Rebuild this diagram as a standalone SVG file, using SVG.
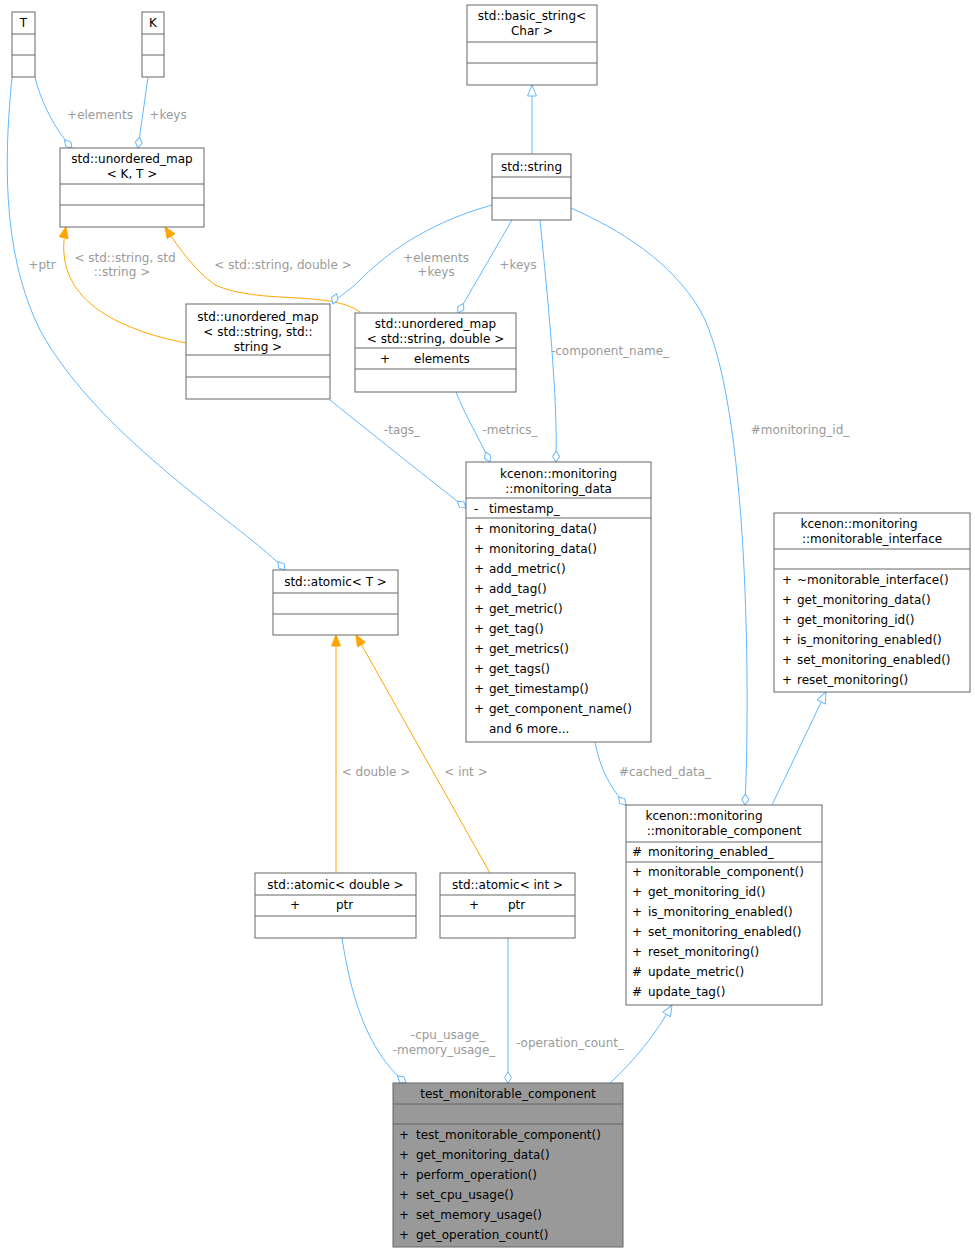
<svg xmlns="http://www.w3.org/2000/svg" width="975" height="1253" viewBox="0 0 975 1253">
<style>
text{font-family:"DejaVu Sans",sans-serif;font-size:12px;fill:#000}
.b{fill:#fff;stroke:#666;stroke-width:1}
.g{fill:#999;stroke:#666;stroke-width:1}
.l{stroke:#666;stroke-width:1}
.c{text-anchor:middle}
.e{fill:none;stroke:#63b8ff;stroke-width:1}
.o{fill:none;stroke:#ffa500;stroke-width:1}
.lb{fill:#9a9a9a;text-anchor:middle}
.agg{marker-end:url(#dia)}
.inh{marker-end:url(#tri)}
.tpl{marker-end:url(#arr)}
</style>
<defs>
<marker id="dia" viewBox="0 0 12 8" refX="11.5" refY="4" markerWidth="12" markerHeight="8" markerUnits="userSpaceOnUse" orient="auto"><path d="M0.5,4 L6,0.5 L11.5,4 L6,7.5 Z" fill="#fff" stroke="#63b8ff"/></marker>
<marker id="tri" viewBox="0 0 12 10" refX="11.5" refY="5" markerWidth="12" markerHeight="10" markerUnits="userSpaceOnUse" orient="auto"><path d="M0.5,0.5 L11.5,5 L0.5,9.5 Z" fill="#fff" stroke="#63b8ff"/></marker>
<marker id="arr" viewBox="0 0 12 10" refX="11.5" refY="5" markerWidth="12" markerHeight="10" markerUnits="userSpaceOnUse" orient="auto"><path d="M0.5,0.5 L11.5,5 L0.5,9.5 Z" fill="#ffa500" stroke="#ffa500"/></marker>
</defs>
<g id="edges">
<path class="e agg" d="M35,77 C40,100 55,130 72,148"/>
<text class="lb" x="100" y="119">+elements</text>
<path class="e agg" d="M148,77 L138,148"/>
<text class="lb" x="168" y="119">+keys</text>
<path class="e inh" d="M532,154 L532,85"/>
<path class="o tpl" d="M186,343 C120,330 50,300 66,227"/>
<text class="lb" x="125" y="262">&lt; std::string, std</text>
<text class="lb" x="122" y="276">::string &gt;</text>
<path class="o tpl" d="M360,312 C330,290 260,305 215,285 C195,270 180,250 165,227"/>
<text class="lb" x="283" y="269">&lt; std::string, double &gt;</text>
<path class="e agg" d="M492,205 C420,225 380,260 360,280 C345,295 335,298 333,304"/>
<text class="lb" x="436" y="262">+elements</text>
<text class="lb" x="436" y="276">+keys</text>
<path class="e agg" d="M512,220 L458,313"/>
<text class="lb" x="518" y="269">+keys</text>
<path class="e agg" d="M540,220 C548,300 558,400 556,462"/>
<text class="lb" x="610" y="355">-component_name_</text>
<path class="e agg" d="M571,208 C620,230 670,260 700,310 C750,400 750,700 745,805"/>
<text class="lb" x="800" y="434">#monitoring_id_</text>
<path class="e agg" d="M330,400 C380,440 430,480 466,508"/>
<text class="lb" x="402" y="434">-tags_</text>
<path class="e agg" d="M456,392 C465,415 480,440 490,462"/>
<text class="lb" x="510" y="434">-metrics_</text>
<path class="e agg" d="M12,77 C5,150 0,250 40,330 C100,440 250,530 285,570"/>
<text class="lb" x="42" y="269">+ptr</text>
<path class="o tpl" d="M336,873 L336,635"/>
<text class="lb" x="376" y="776">&lt; double &gt;</text>
<path class="o tpl" d="M490,873 L356,635"/>
<text class="lb" x="466" y="776">&lt; int &gt;</text>
<path class="e agg" d="M595,742 C600,770 612,790 626,805"/>
<text class="lb" x="665" y="776">#cached_data_</text>
<path class="e inh" d="M772,805 L826,692"/>
<path class="e agg" d="M342,938 C350,990 365,1050 406,1083"/>
<text class="lb" x="448" y="1039">-cpu_usage_</text>
<text class="lb" x="444" y="1054">-memory_usage_</text>
<path class="e agg" d="M508,938 L508,1083"/>
<text class="lb" x="570" y="1047">-operation_count_</text>
<path class="e inh" d="M610,1083 C635,1060 655,1035 672,1005"/>
</g>
<g id="T"><rect class="b" x="12" y="12" width="23" height="65"/><path class="l" d="M12,34H35M12,55H35"/><text class="c" x="23.5" y="27">T</text></g>
<g id="K"><rect class="b" x="142" y="12" width="22" height="65"/><path class="l" d="M142,34H164M142,55H164"/><text class="c" x="153" y="27">K</text></g>
<g id="umapKT"><rect class="b" x="60" y="148" width="144" height="79"/><path class="l" d="M60,184H204M60,205H204"/><text class="c" x="132" y="163">std::unordered_map</text><text class="c" x="132" y="178">&lt; K, T &gt;</text></g>
<g id="basic_string"><rect class="b" x="467" y="5" width="130" height="80"/><path class="l" d="M467,42H597M467,63H597"/><text class="c" x="532" y="20">std::basic_string&lt;</text><text class="c" x="532" y="35">Char &gt;</text></g>
<g id="string"><rect class="b" x="492" y="154" width="79" height="66"/><path class="l" d="M492,177H571M492,198H571"/><text class="c" x="531.5" y="171">std::string</text></g>
<g id="umapSS"><rect class="b" x="186" y="304" width="144" height="95"/><path class="l" d="M186,355H330M186,377H330"/><text class="c" x="258" y="321">std::unordered_map</text><text class="c" x="258" y="336">&lt; std::string, std::</text><text class="c" x="258" y="351">string &gt;</text></g>
<g id="umapSD"><rect class="b" x="355" y="313" width="161" height="79"/><path class="l" d="M355,348H516M355,369H516"/><text class="c" x="435.5" y="328">std::unordered_map</text><text class="c" x="435.5" y="343">&lt; std::string, double &gt;</text><text x="380" y="363">+</text><text x="414" y="363">elements</text></g>
<g id="monitoring_data"><rect class="b" x="466" y="462" width="185" height="280"/><path class="l" d="M466,498H651M466,518H651"/><text class="c" x="558.5" y="478">kcenon::monitoring</text><text class="c" x="558.5" y="493">::monitoring_data</text>
<text x="474" y="513">-</text><text x="489" y="513">timestamp_</text>
<text x="474" y="533">+<tspan x="489">monitoring_data()</tspan></text>
<text x="474" y="553">+<tspan x="489">monitoring_data()</tspan></text>
<text x="474" y="573">+<tspan x="489">add_metric()</tspan></text>
<text x="474" y="593">+<tspan x="489">add_tag()</tspan></text>
<text x="474" y="613">+<tspan x="489">get_metric()</tspan></text>
<text x="474" y="633">+<tspan x="489">get_tag()</tspan></text>
<text x="474" y="653">+<tspan x="489">get_metrics()</tspan></text>
<text x="474" y="673">+<tspan x="489">get_tags()</tspan></text>
<text x="474" y="693">+<tspan x="489">get_timestamp()</tspan></text>
<text x="474" y="713">+<tspan x="489">get_component_name()</tspan></text>
<text x="489" y="733">and 6 more...</text></g>
<g id="monitorable_interface"><rect class="b" x="774" y="513" width="196" height="179"/><path class="l" d="M774,549H970M774,569H970"/><text class="c" x="859" y="528">kcenon::monitoring</text><text class="c" x="872" y="543">::monitorable_interface</text>
<text x="782" y="584">+<tspan x="797">~monitorable_interface()</tspan></text>
<text x="782" y="604">+<tspan x="797">get_monitoring_data()</tspan></text>
<text x="782" y="624">+<tspan x="797">get_monitoring_id()</tspan></text>
<text x="782" y="644">+<tspan x="797">is_monitoring_enabled()</tspan></text>
<text x="782" y="664">+<tspan x="797">set_monitoring_enabled()</tspan></text>
<text x="782" y="684">+<tspan x="797">reset_monitoring()</tspan></text></g>
<g id="atomicT"><rect class="b" x="273" y="570" width="125" height="65"/><path class="l" d="M273,593H398M273,614H398"/><text class="c" x="335.5" y="586">std::atomic&lt; T &gt;</text></g>
<g id="atomicD"><rect class="b" x="255" y="873" width="161" height="65"/><path class="l" d="M255,895H416M255,916H416"/><text class="c" x="335.5" y="889">std::atomic&lt; double &gt;</text><text x="290" y="909">+</text><text x="336" y="909">ptr</text></g>
<g id="atomicI"><rect class="b" x="440" y="873" width="135" height="65"/><path class="l" d="M440,895H575M440,916H575"/><text class="c" x="507.5" y="889">std::atomic&lt; int &gt;</text><text x="469" y="909">+</text><text x="508" y="909">ptr</text></g>
<g id="monitorable_component"><rect class="b" x="626" y="805" width="196" height="200"/><path class="l" d="M626,842H822M626,862H822"/><text class="c" x="704" y="820">kcenon::monitoring</text><text class="c" x="724" y="835">::monitorable_component</text>
<text x="632" y="856">#<tspan x="648">monitoring_enabled_</tspan></text>
<text x="632" y="876">+<tspan x="648">monitorable_component()</tspan></text>
<text x="632" y="896">+<tspan x="648">get_monitoring_id()</tspan></text>
<text x="632" y="916">+<tspan x="648">is_monitoring_enabled()</tspan></text>
<text x="632" y="936">+<tspan x="648">set_monitoring_enabled()</tspan></text>
<text x="632" y="956">+<tspan x="648">reset_monitoring()</tspan></text>
<text x="632" y="976">#<tspan x="648">update_metric()</tspan></text>
<text x="632" y="996">#<tspan x="648">update_tag()</tspan></text></g>
<g id="test_monitorable_component"><rect class="g" x="393" y="1083" width="230" height="164"/><path class="l" d="M393,1104H623M393,1124H623"/><text class="c" x="508" y="1098">test_monitorable_component</text>
<text x="399" y="1139">+<tspan x="416">test_monitorable_component()</tspan></text>
<text x="399" y="1159">+<tspan x="416">get_monitoring_data()</tspan></text>
<text x="399" y="1179">+<tspan x="416">perform_operation()</tspan></text>
<text x="399" y="1199">+<tspan x="416">set_cpu_usage()</tspan></text>
<text x="399" y="1219">+<tspan x="416">set_memory_usage()</tspan></text>
<text x="399" y="1239">+<tspan x="416">get_operation_count()</tspan></text></g>
</svg>
